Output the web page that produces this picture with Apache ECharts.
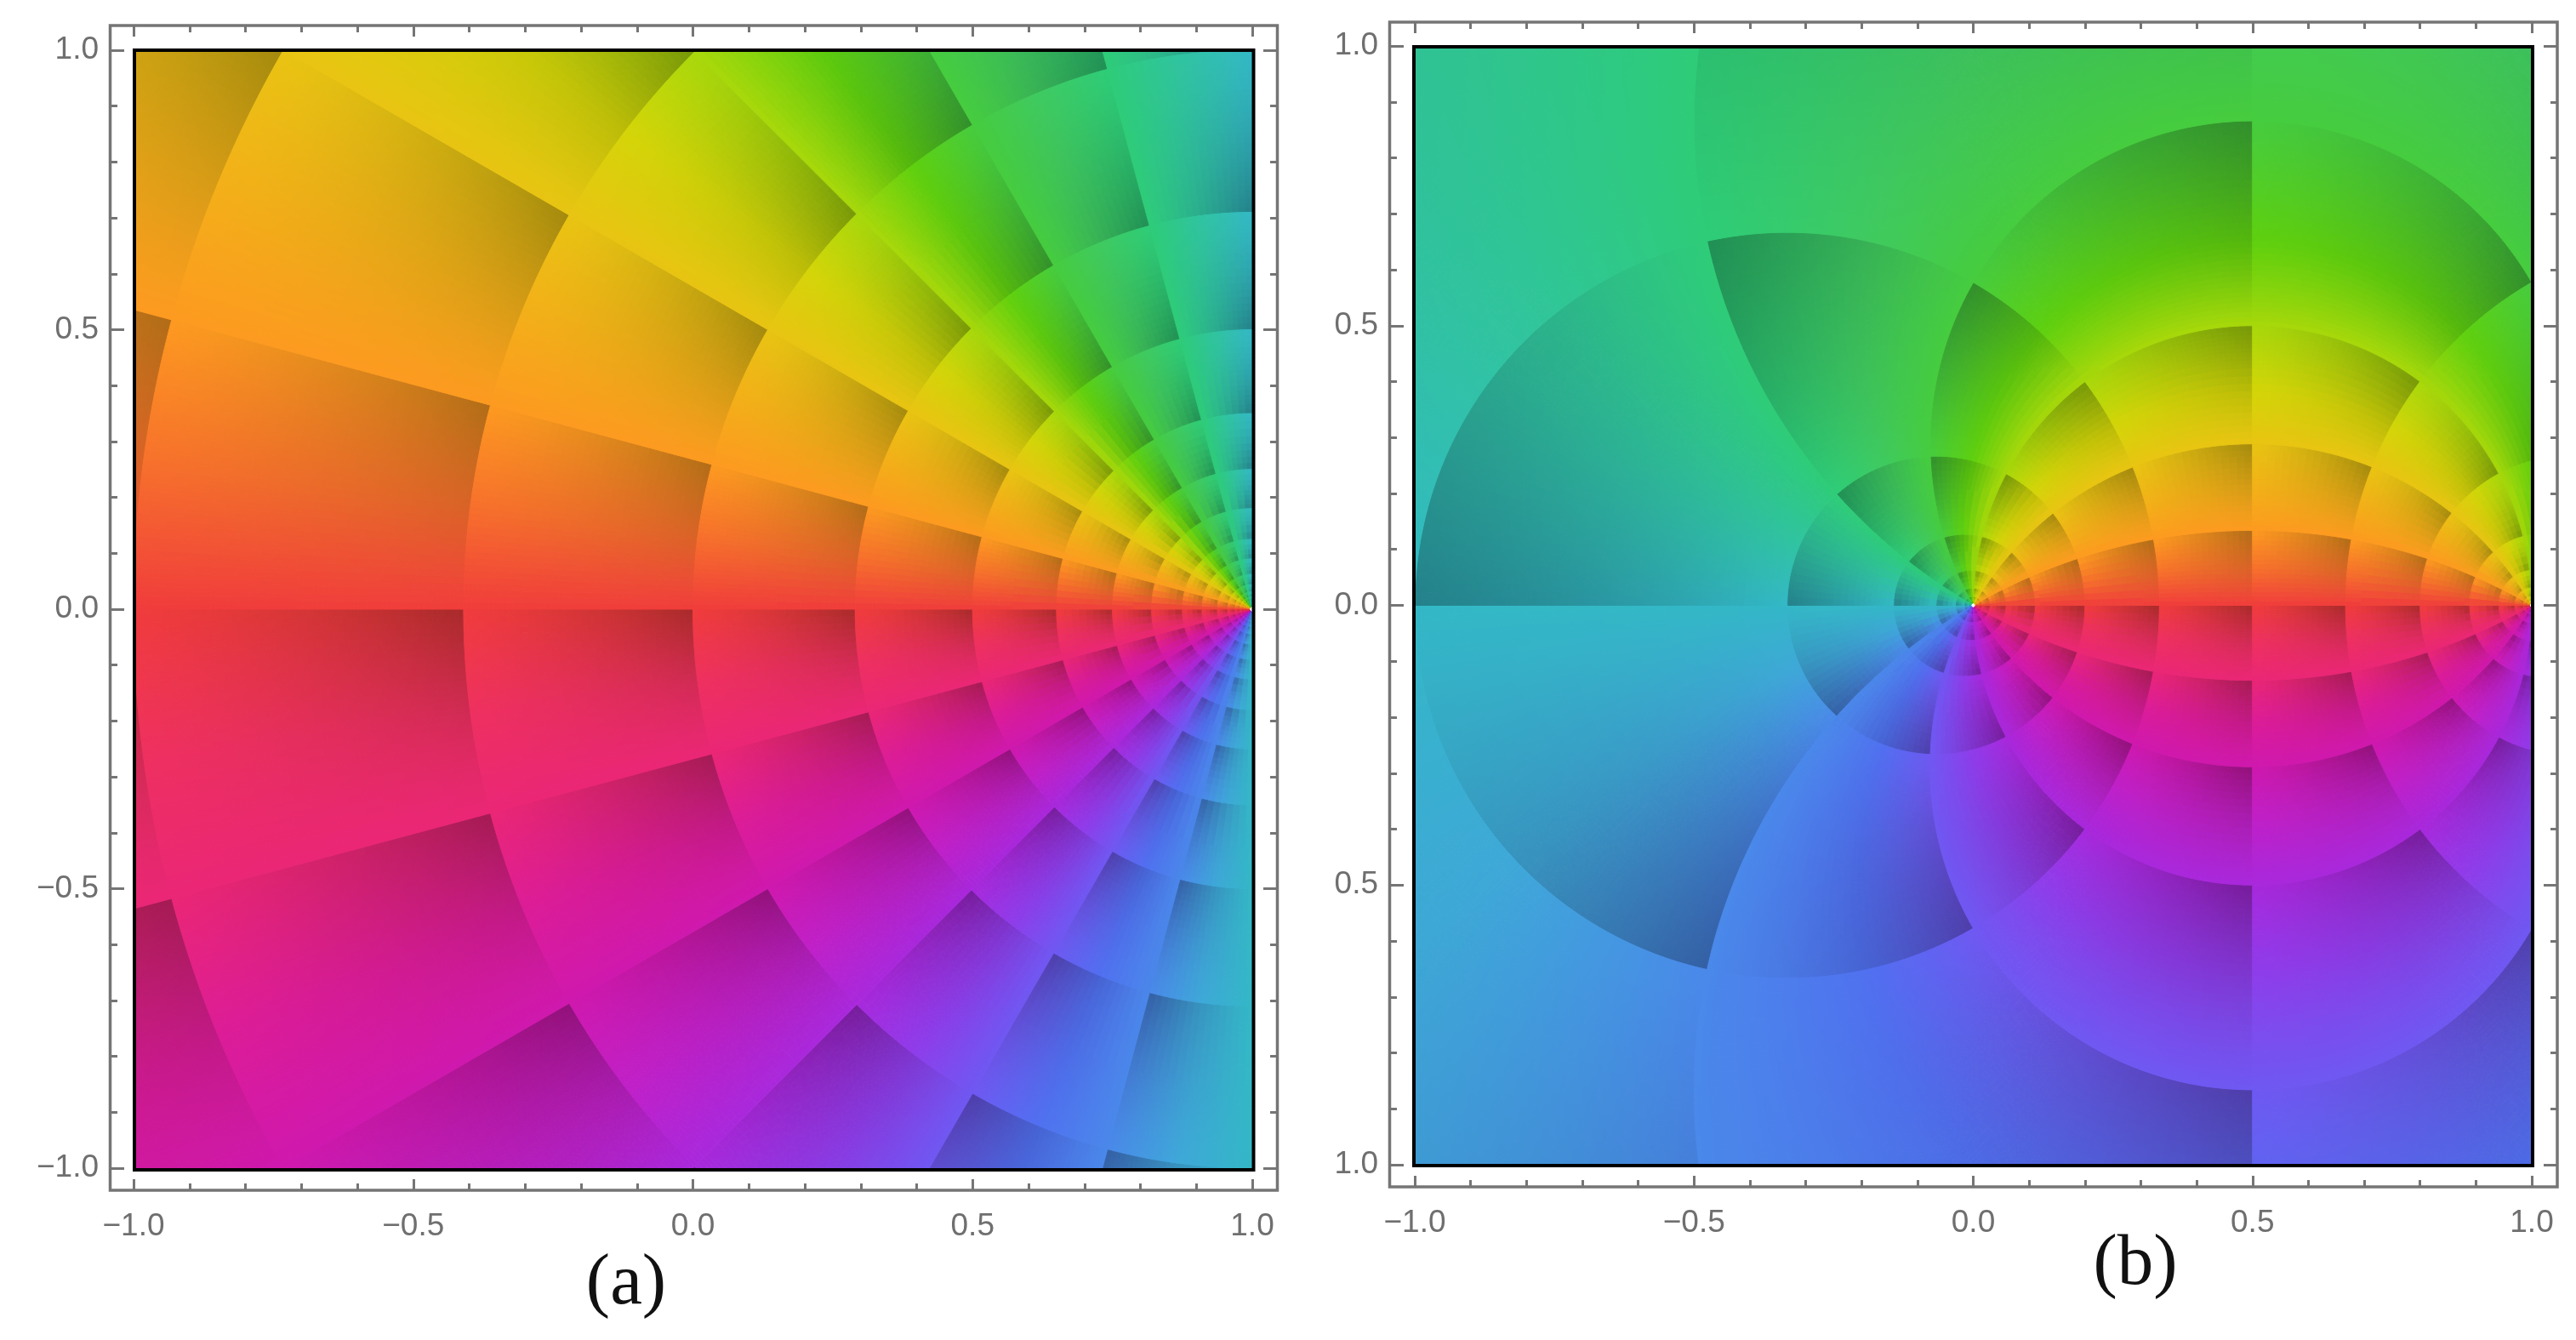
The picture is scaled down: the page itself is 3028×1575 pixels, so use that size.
<!DOCTYPE html>
<html>
<head>
<meta charset="utf-8">
<title>Phase plots</title>
<script src="https://cdn.jsdelivr.net/npm/echarts@6/dist/echarts.min.js"></script>
<style>
    html, body { margin: 0; background: #fff; }
    #chart { width: 3028px; height: 1575px; }
</style>
</head>
<body>
<div id="chart"></div>
<script>
// Contour levels. Every cell between two neighbouring
// levels is one data item; the colour inside it comes from phaseColors.

// (a) rings around (1, 0), as distance from that point along the real axis
const ringsA = [2.83, 2, 1.41, 1, 0.71, 0.5, 0.35, 0.25, 0.18, 0.125, 0.09, 0.0625, 0.044, 0.031, 0.022, 0.015, 0.011, 0.008, 0.005];
// (a) rays out of (1, 0), degrees above the negative real direction
const raysA = [-90, -75, -60, -45, -30, -15, 0, 15, 30, 45, 60, 75, 90];

const modsB = [0.004, 0.008, 0.016, 0.031, 0.0625, 0.125, 0.25, 0.5, 1, 2, 4, 8, 16, 32, 64, 128, 256];
// (b) phase levels, degrees
const phasesB = [-180, -150, -120, -90, -60, -30, 0, 30, 60, 90, 120, 150, 180];

// colour at phase 0, 15, 30 ... 345 degrees, sampled by eye
const phaseColors = [
    '#f03c3c', '#f7702c', '#fd9a20', '#f3b018', '#e9c412', '#d4d508',
    '#a8d80a', '#5fd00e', '#46cc3e', '#3fca60', '#2ecc78', '#30c4a0',
    '#33b8c6', '#3ea8d8', '#4a88ea', '#5070f0', '#6f58f2', '#8f3cea',
    '#a828dc', '#c020c8', '#cf18ae', '#dc1c98', '#ea2676', '#ee3060'
];

const xTickLabels = ['\u22121.0', '\u22120.5', '0.0', '0.5', '1.0'];
const yTickLabelsA = ['\u22121.0', '\u22120.5', '0.0', '0.5', '1.0'];
const yTickLabelsB = ['1.0', '0.5', '0.0', '0.5', '1.0'];

const DARK = 0.3;
const DARK_POWER = 1.3;
const MAX_SIDE = 0.014;
const AXIS_GRAY = '#757575';

const stops = phaseColors.map(function (c) {
    return [parseInt(c.slice(1, 3), 16), parseInt(c.slice(3, 5), 16), parseInt(c.slice(5, 7), 16)];
});

const cellColor = function (phase, a, b) {
    let pos = ((phase % 360) + 360) % 360 / 15;
    let i = Math.floor(pos) % stops.length;
    let f = pos - Math.floor(pos);
    let shade = 1 - DARK * Math.pow(a * b, DARK_POWER);
    let rgb = [0, 1, 2].map(function (k) {
        return Math.round((stops[i][k] * (1 - f) + stops[(i + 1) % stops.length][k] * f) * shade);
    });
    return 'rgb(' + rgb.join(',') + ')';
};

// (u, v) inside a cell to a point on the plane, plus the phase at that spot
const cellA = function (i, j) {
    return function (u, v) {
        let r = Math.exp(Math.log(ringsA[i]) * (1 - u) + Math.log(ringsA[i + 1]) * u);
        let t = (raysA[j] + (raysA[j + 1] - raysA[j]) * v) * Math.PI / 180;
        return { x: 1 - r * Math.cos(t), y: r * Math.sin(t), phase: 2 * t * 180 / Math.PI };
    };
};

const cellB = function (i, j) {
    return function (u, v) {
        let rho = Math.exp(Math.log(modsB[i]) * (1 - u) + Math.log(modsB[i + 1]) * u);
        let deg = phasesB[j] + (phasesB[j + 1] - phasesB[j]) * v;
        let t = deg * Math.PI / 180;
        let wx = rho * Math.cos(t), wy = rho * Math.sin(t);
        let d = (1 + wx) * (1 + wx) + wy * wy;
        return { x: (wx * (1 + wx) + wy * wy) / d, y: wy / d, phase: deg };
    };
};

// split a cell until the pieces are small, dropping whatever is off the plot
const splitCell = function (map, u0, u1, v0, v1, depth, out) {
    let p = [map(u0, v0), map(u1, v0), map(u1, v1), map(u0, v1)];
    let ok = p.every(function (q) { return isFinite(q.x) && isFinite(q.y); });
    let sideU = 0, sideV = 0;
    if (ok) {
        let xs = p.map(function (q) { return q.x; });
        let ys = p.map(function (q) { return q.y; });
        if (depth > 3 && (Math.max.apply(null, xs) < -1 || Math.min.apply(null, xs) > 1 ||
            Math.max.apply(null, ys) < -1 || Math.min.apply(null, ys) > 1)) {
            return;
        }
        sideU = Math.max(Math.hypot(p[0].x - p[1].x, p[0].y - p[1].y), Math.hypot(p[3].x - p[2].x, p[3].y - p[2].y));
        sideV = Math.max(Math.hypot(p[0].x - p[3].x, p[0].y - p[3].y), Math.hypot(p[1].x - p[2].x, p[1].y - p[2].y));
        if (depth > 3 && sideU <= MAX_SIDE && sideV <= MAX_SIDE) {
            let mid = map((u0 + u1) / 2, (v0 + v1) / 2);
            out.push({ p: p, color: cellColor(mid.phase, (v0 + v1) / 2, (u0 + u1) / 2) });
            return;
        }
    }
    if (depth > 22) {
        return;
    }
    if (sideU >= sideV) {
        let um = (u0 + u1) / 2;
        splitCell(map, u0, um, v0, v1, depth + 1, out);
        splitCell(map, um, u1, v0, v1, depth + 1, out);
    } else {
        let vm = (v0 + v1) / 2;
        splitCell(map, u0, u1, v0, vm, depth + 1, out);
        splitCell(map, u0, u1, vm, v1, depth + 1, out);
    }
};

const makeRenderItem = function (cellMap) {
    return function (params, api) {
        let pieces = [];
        splitCell(cellMap(api.value(0), api.value(1)), 0, 1, 0, 1, 0, pieces);
        return {
            type: 'group',
            silent: true,
            children: pieces.map(function (piece) {
                return {
                    type: 'polygon',
                    silent: true,
                    shape: { points: piece.p.map(function (q) { return api.coord([q.x, q.y]); }) },
                    style: { fill: piece.color, stroke: piece.color, lineWidth: 1 }
                };
            })
        };
    };
};

const cellItems = function (levels, angles) {
    let items = [];
    for (let i = 0; i < levels.length - 1; i++) {
        for (let j = 0; j < angles.length - 1; j++) {
            items.push([i, j]);
        }
    }
    return items;
};

const makeAxis = function (dim, position, offset, gridIndex, labels, labelStyle) {
    let axis = {
        type: 'value',
        gridIndex: gridIndex,
        position: position,
        offset: offset,
        min: -1,
        max: 1,
        interval: 0.5,
        splitNumber: 4,
        z: 6,
        axisLine: { show: false, onZero: false },
        axisTick: { show: true, inside: true, length: dim === 'y' ? 16 : 13, lineStyle: { color: AXIS_GRAY, width: 3 } },
        minorTick: { show: true, splitNumber: 5, length: 8, lineStyle: { color: AXIS_GRAY, width: 3 } },
        splitLine: { show: false },
        minorSplitLine: { show: false },
        axisLabel: { show: false }
    };
    if (labels) {
        axis.axisLabel = Object.assign({
            show: true,
            color: '#6f6f6f',
            fontFamily: 'Liberation Sans, Arial, sans-serif',
            fontSize: 37,
            formatter: function (value) {
                return labels[Math.round((value + 1) / 0.5)];
            }
        }, labelStyle);
    }
    return axis;
};

const frameRect = function (x0, y0, x1, y1, color, width) {
    return {
        type: 'rect',
        z: 50,
        silent: true,
        shape: { x: x0, y: y0, width: x1 - x0, height: y1 - y0 },
        style: { fill: 'none', stroke: color, lineWidth: width }
    };
};

const captionText = function (text, x, y) {
    return {
        type: 'text',
        z: 50,
        silent: true,
        x: x,
        y: y,
        style: {
            text: text,
            fill: '#111',
            fontFamily: 'Liberation Serif, Times New Roman, serif',
            fontSize: 85,
            align: 'center',
            verticalAlign: 'middle'
        }
    };
};

let chart = echarts.init(document.getElementById('chart'));

const xLabelStyle = { margin: 24 };
const yLabelStyle = { margin: 14, padding: [0, 0, 7, 0] };

chart.setOption({
    backgroundColor: '#fff',
    animation: false,
    tooltip: { show: false },

    grid: [
        { left: 157, top: 59, width: 1315, height: 1314 },
        { left: 1663, top: 54, width: 1313, height: 1315 }
    ],

    xAxis: [
        makeAxis('x', 'bottom', 26, 0, xTickLabels, xLabelStyle),
        makeAxis('x', 'top', 29, 0),
        makeAxis('x', 'bottom', 26, 1, xTickLabels, xLabelStyle),
        makeAxis('x', 'top', 28, 1)
    ],

    yAxis: [
        makeAxis('y', 'left', 27, 0, yTickLabelsA, yLabelStyle),
        makeAxis('y', 'right', 29, 0),
        makeAxis('y', 'left', 29, 1, yTickLabelsB.slice().reverse(), yLabelStyle),
        makeAxis('y', 'right', 30, 1)
    ],

    series: [{
        type: 'custom',
        xAxisIndex: 0,
        yAxisIndex: 0,
        clip: true,
        silent: true,
        renderItem: makeRenderItem(cellA),
        data: cellItems(ringsA, raysA)
    }, {
        type: 'custom',
        xAxisIndex: 2,
        yAxisIndex: 2,
        clip: true,
        silent: true,
        renderItem: makeRenderItem(cellB),
        data: cellItems(modsB, phasesB)
    }],

    graphic: [
        frameRect(158, 59, 1473.5, 1375, '#000', 4),
        frameRect(129.5, 30, 1501.5, 1399, AXIS_GRAY, 3.5),
        frameRect(1662, 55, 2977, 1370, '#000', 4),
        frameRect(1633.5, 26, 3006, 1395, AXIS_GRAY, 3.5),
        captionText('(a)', 736, 1510),
        captionText('(b)', 2510, 1487)
    ]
});
</script>
</body>
</html>
